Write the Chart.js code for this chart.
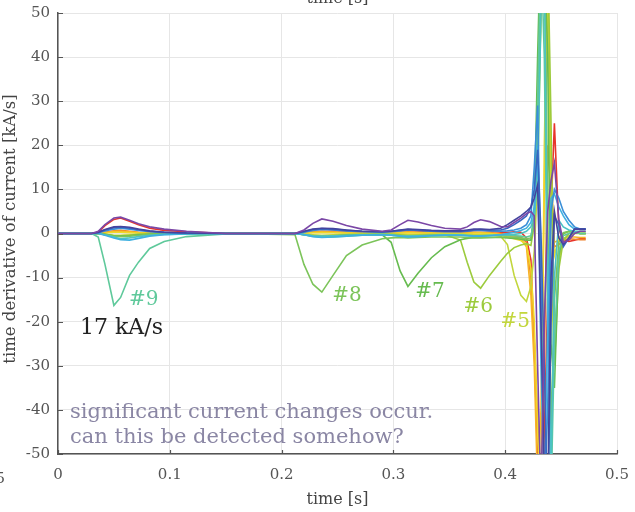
<!DOCTYPE html>
<html>
<head>
<meta charset="utf-8">
<title>time derivative of current</title>
<script src="https://cdn.jsdelivr.net/npm/chart.js@4.4.1/dist/chart.umd.min.js"></script>
<style>
  body { margin: 0; background: #fff; }
  #wrap { width: 635px; height: 512px; }
</style>
</head>
<body>
<div id="wrap"><canvas id="my-Chart" width="635" height="512"></canvas></div>
<script>
// tempo [s] (grade comum para todas as bobinas)
const times = [0, 0.03, 0.036, 0.042, 0.05, 0.056, 0.064, 0.072, 0.082, 0.095,
  0.115, 0.15, 0.212, 0.22, 0.228, 0.236, 0.246, 0.258, 0.272, 0.29,
  0.298, 0.306, 0.313, 0.322, 0.334, 0.346, 0.36, 0.366, 0.372, 0.378,
  0.386, 0.396, 0.402, 0.408, 0.414, 0.419, 0.423, 0.426, 0.429, 0.432,
  0.435, 0.438, 0.441, 0.444, 0.448, 0.452, 0.457, 0.462, 0.467, 0.472];

// dI/dt [kA/s] de cada bobina
const coil1 = [0, 0, 0.3, 1.8, 3.2, 3.5, 2.8, 2.0, 1.2, 0.7,
  0.4, 0, 0, 0.3, 0.8, 1.0, 0.8, 0.5, 0.3, 0.2,
  0.3, 0.6, 0.8, 0.6, 0.4, 0.2, 0.2, 0.5, 0.7, 0.8,
  0.6, 0.3, 0.2, 0.4, 0.3, -1.0, -6, -25, -52, -70,
  -45, -15, 5, 25, 1, -1.5, -1.8, -1.5, -1.2, -1.2];
const coil2 = [0, 0, 0, 0.3, 0.6, 0.7, 0.5, 0.3, 0.2, 0.1,
  0, 0, 0, 0.2, 0.4, 0.5, 0.4, 0.3, 0.2, 0.1,
  0.2, 0.3, 0.4, 0.3, 0.2, 0.1, 0.1, 0.2, 0.3, 0.3,
  0.2, 0, -0.3, -0.6, -0.8, -2, -10, -24, -42, -65,
  -30, 20, 10, -3, -2.5, -1.5, -1.2, -1.3, -1.4, -1.4];
const coil3 = [0, 0, 0, 0.2, 0.5, 0.5, 0.4, 0.2, 0.1, 0.1,
  0, 0, 0, 0.1, 0.3, 0.4, 0.3, 0.2, 0.1, 0.1,
  0.1, 0.2, 0.3, 0.2, 0.1, 0.1, 0, 0.1, 0.2, 0.2,
  0.1, -0.2, -0.5, -0.8, -1.2, -3, -14, -30, -58, -40,
  10, 55, 15, -2, -1.5, -1, -0.8, -0.8, -0.9, -0.9];
const coil4 = [0, 0, 0, 0.1, 0.3, 0.3, 0.2, 0.1, 0.1, 0,
  0, 0, 0, 0, 0.2, 0.2, 0.2, 0.1, 0, 0,
  0, 0.1, 0.2, 0.1, 0.1, 0, 0, 0, 0.1, 0.1,
  0, -0.3, -0.8, -1.2, -1.6, -2.5, -8, -20, -45, -60,
  20, 60, 8, -5, -1, 0, 0.5, 0.2, 0, 0];
const coil5 = [0, 0, 0, -0.2, -0.4, -0.4, -0.3, -0.2, -0.1, 0,
  0, 0, 0, -0.2, -0.3, -0.4, -0.3, -0.2, -0.1, -0.1,
  -0.1, -0.2, -0.3, -0.3, -0.2, -0.1, -0.1, -0.2, -0.3, -0.3,
  -0.3, -0.6, -2.5, -9.5, -14, -15.4, -12, -4, 12, 50,
  70, 60, -10, -28, -6, -1.5, -0.5, 0, 0, 0];
const coil6 = [0, 0, 0, -0.2, -0.5, -0.5, -0.4, -0.2, -0.1, 0,
  0, 0, 0, -0.3, -0.5, -0.6, -0.5, -0.3, -0.2, -0.1,
  -0.2, -0.3, -0.5, -0.4, -0.3, -0.3, -1.5, -6.5, -11, -12.4,
  -9.5, -6.3, -4.5, -3.2, -2.6, -2.3, -2.7, 2, 20, 50,
  70, 65, 25, -30, -8, -1.5, 0, 0.2, 0, 0];
const coil7 = [0, 0, 0, -0.2, -0.5, -0.6, -0.5, -0.3, -0.2, -0.1,
  0, 0, 0, -0.3, -0.6, -0.7, -0.6, -0.4, -0.3, -0.3,
  -2.0, -8.5, -12, -9, -5.5, -3, -1.4, -1.1, -0.9, -0.9,
  -0.9, -0.9, -1.0, -1.1, -1.3, -1.5, -1.5, 5, 40, 70,
  65, 40, -25, -35, -5, 0, 0.5, 0.3, 0, 0];
const coil8 = [0, 0, 0, -0.3, -0.6, -0.7, -0.6, -0.4, -0.2, -0.1,
  0, 0, -0.3, -7, -11.5, -13.3, -9.5, -5, -2.6, -1.2,
  -1.0, -0.9, -1.0, -0.9, -0.8, -0.8, -0.8, -0.9, -1.0, -1.0,
  -0.9, -0.8, -0.8, -0.9, -1.0, -1.2, -1.0, 3, 20, 60,
  70, 5, -45, -15, -2, 0.2, 0.5, 0.3, 0, 0];
const coil9 = [0, 0, -0.8, -7, -16.3, -14.5, -9.5, -6.5, -3.4, -1.8,
  -0.7, -0.1, 0, -0.3, -0.6, -0.8, -0.8, -0.6, -0.4, -0.3,
  -0.4, -0.6, -0.7, -0.6, -0.5, -0.4, -0.4, -0.5, -0.6, -0.6,
  -0.5, -0.4, -0.4, -0.5, -0.6, -0.8, -0.5, 3, 30, 65,
  40, -20, -60, -25, -4, -0.5, 0, 0.3, 0, 0];
const coil10 = [0, 0, 0, -0.3, -0.8, -1.2, -1.0, -0.7, -0.4, -0.2,
  -0.1, 0, 0, -0.2, -0.5, -0.6, -0.5, -0.4, -0.3, -0.2,
  -0.3, -0.5, -0.6, -0.5, -0.4, -0.3, -0.3, -0.4, -0.5, -0.5,
  -0.4, -0.3, -0.3, -0.2, 0, 0.5, 1.5, 4, 12, 50,
  60, -10, -55, -10, 3, 1.5, 0.8, 0.5, 0.5, 0.5];
const coil11 = [0, 0, 0, -0.4, -1.0, -1.4, -1.5, -1.1, -0.6, -0.3,
  -0.1, 0, 0, -0.3, -0.7, -0.9, -0.8, -0.6, -0.4, -0.3,
  -0.4, -0.6, -0.8, -0.7, -0.5, -0.4, -0.4, -0.5, -0.6, -0.6,
  -0.5, -0.3, 0, 0.3, 0.7, 1.2, 2.5, 6, 20, -30,
  -60, -20, 8, 9, 6, 4, 2, 1, 1, 1];
const coil12 = [0, 0, 0.2, 0.6, 1.0, 1.2, 1.0, 0.7, 0.4, 0.2,
  0.1, 0, 0, 0.3, 0.7, 0.9, 0.8, 0.6, 0.4, 0.3,
  0.4, 0.6, 0.8, 0.7, 0.5, 0.4, 0.4, 0.5, 0.7, 0.7,
  0.6, 0.5, 0.6, 0.8, 1.2, 2, 4, 15, 29, -10,
  -60, -40, 5, 10, 8, 5, 3, 1.5, 1, 1];
const coil13 = [0, 0, 0.2, 0.8, 1.3, 1.5, 1.2, 0.9, 0.5, 0.3,
  0.1, 0, 0, 0.4, 0.9, 1.1, 1.0, 0.7, 0.5, 0.4,
  0.5, 0.7, 0.9, 0.8, 0.6, 0.5, 0.5, 0.6, 0.8, 0.9,
  0.8, 0.8, 1.2, 2, 3, 4, 6, 10, 19, 0,
  -30, -65, -20, 4, 2, -3, -1, 1, 1, 1];
const coil14 = [0, 0, 0.3, 0.9, 1.5, 1.6, 1.4, 1.0, 0.6, 0.3,
  0.1, 0, 0, 0.5, 1.0, 1.2, 1.1, 0.8, 0.5, 0.4,
  0.5, 0.8, 1.0, 0.9, 0.7, 0.6, 0.6, 0.8, 1.0, 1.0,
  0.9, 1.2, 2, 3, 4, 5, 6, 8, 11, -20,
  -55, -60, -10, 5, -1, -2.5, -1, 1, 1, 1];
const coil15 = [0, 0, 0.5, 2.0, 3.5, 3.7, 3.0, 2.2, 1.5, 1.0,
  0.5, 0, 0, 0.8, 2.3, 3.3, 2.8, 1.8, 1.0, 0.5,
  0.8, 2.0, 3.0, 2.6, 1.8, 1.2, 1.0, 1.5, 2.5, 3.1,
  2.7, 1.6, 1.5, 2.5, 3.5, 4.5, 5, 4, -30, -60,
  -20, 5, 12, 16, 3, -2, -1.5, 0, 0.5, 0.5];

const coils = [coil1, coil2, coil3, coil4, coil5, coil6, coil7, coil8,
  coil9, coil10, coil11, coil12, coil13, coil14, coil15];
const coilColors = ['#e8352b', '#f07f27', '#f7b325', '#f0d82a', '#c2d63c',
  '#9ccb3d', '#66bb4f', '#7cc45a', '#5fc99b', '#4cc2c4', '#3fb0e0',
  '#3a8fd8', '#3866c0', '#44449e', '#7b47a6'];

const xTickLabels = ['0', '0.1', '0.2', '0.3', '0.4', '0.5'];
const yTickLabels = ['-50', '-40', '-30', '-20', '-10', '0', '10', '20', '30', '40', '50'];

// anotações (posição em coordenadas dos dados)
const notes = [
  { text: '#9', t: 0.0636, v: -16.1, color: '#5fc99b', size: 20 },
  { text: '#8', t: 0.2453, v: -15.4, color: '#7cc45a', size: 20 },
  { text: '#7', t: 0.3196, v: -14.3, color: '#66bb4f', size: 20 },
  { text: '#6', t: 0.3626, v: -17.7, color: '#9ccb3d', size: 20 },
  { text: '#5', t: 0.3957, v: -21.1, color: '#c2d63c', size: 20 },
  { text: '17 kA/s', t: 0.0197, v: -22.9, color: '#222', size: 22 },
  { text: 'significant current changes occur.', t: 0.0107, v: -41.8, color: '#8a86a4', size: 21 },
  { text: 'can this be detected somehow?', t: 0.0107, v: -47.4, color: '#8a86a4', size: 21 }
];

const FONT = '"DejaVu Serif", serif';

const notesPlugin = {
  id: 'notesPlugin',
  afterDraw(chart) {
    const { ctx, chartArea, scales: { x, y } } = chart;
    ctx.save();
    // marcas de escala para dentro
    ctx.strokeStyle = '#555';
    ctx.lineWidth = 1.2;
    ctx.beginPath();
    x.ticks.forEach(tk => {
      const px = Math.round(x.getPixelForValue(tk.value)) + 0.5;
      ctx.moveTo(px, chartArea.bottom);
      ctx.lineTo(px, chartArea.bottom - 4);
    });
    y.ticks.forEach(tk => {
      const py = Math.round(y.getPixelForValue(tk.value)) + 0.5;
      ctx.moveTo(chartArea.left, py);
      ctx.lineTo(chartArea.left + 5, py);
    });
    ctx.stroke();

    ctx.textAlign = 'left';
    ctx.textBaseline = 'alphabetic';
    notes.forEach(n => {
      ctx.font = n.size + 'px ' + FONT;
      ctx.fillStyle = n.color;
      ctx.fillText(n.text, x.getPixelForValue(n.t), y.getPixelForValue(n.v));
    });

    // título do eixo y (um pouco acima do centro, como no original)
    ctx.save();
    ctx.translate(11, 229);
    ctx.rotate(-Math.PI / 2);
    ctx.font = '16.5px ' + FONT;
    ctx.fillStyle = '#444';
    ctx.textAlign = 'center';
    ctx.textBaseline = 'middle';
    ctx.fillText('time derivative of current [kA/s]', 0, 0);
    ctx.restore();

    // restos de textos cortados na borda
    ctx.font = '16px ' + FONT;
    ctx.fillStyle = '#444';
    ctx.textAlign = 'center';
    ctx.fillText('time [s]', (chartArea.left + chartArea.right) / 2, 3);
    ctx.font = '15px ' + FONT;
    ctx.fillStyle = '#555';
    ctx.textAlign = 'right';
    ctx.fillText('0.5', 5, 483);
    ctx.restore();
  }
};

function plotChart() {
  const ctx = document.querySelector('#my-Chart');
  const datasets = coils.map((vals, i) => ({
    label: '#' + (i + 1),
    data: vals.map((v, k) => ({ x: times[k], y: v })),
    borderColor: coilColors[i],
    borderWidth: 1.6,
    pointRadius: 0,
    tension: 0,
    fill: false
  })).reverse(); // roxo por cima

  new Chart(ctx, {
    type: 'line',
    data: { datasets },
    options: {
      responsive: false,
      animation: false,
      layout: { padding: { top: 13, right: 18, left: 0, bottom: 0 } },
      plugins: { legend: { display: false }, tooltip: { enabled: false } },
      scales: {
        x: {
          type: 'linear',
          min: 0,
          max: 0.5,
          afterFit: (s) => { s.height = 58; s.paddingLeft = 0; s.paddingRight = 0; },
          grid: { color: '#e6e6e6', drawTicks: false },
          border: { color: '#555', width: 1.5 },
          ticks: {
            stepSize: 0.1,
            padding: 12,
            color: '#555',
            font: { family: FONT, size: 15 },
            callback: (v, i) => xTickLabels[i]
          },
          title: {
            display: true,
            text: 'time [s]',
            color: '#444',
            font: { family: FONT, size: 16 },
            padding: { top: 0, bottom: 3 }
          }
        },
        y: {
          min: -50,
          max: 50,
          afterFit: (s) => { s.width = 58; s.paddingTop = 0; s.paddingBottom = 0; },
          grid: { color: '#e6e6e6', drawTicks: false },
          border: { color: '#555', width: 1.5 },
          ticks: {
            stepSize: 10,
            padding: 8,
            color: '#555',
            font: { family: FONT, size: 15 },
            callback: (v, i) => yTickLabels[i]
          },
          title: { display: false }
        }
      }
    },
    plugins: [notesPlugin]
  });
}

document.addEventListener('DOMContentLoaded', plotChart);
</script>
</body>
</html>
